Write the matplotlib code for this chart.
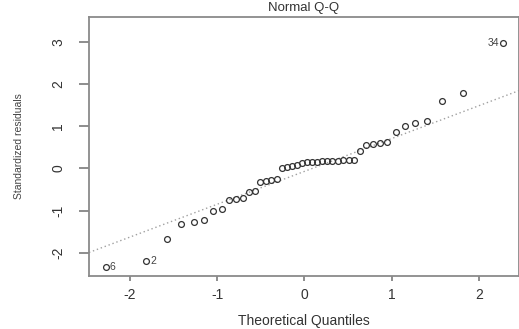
from statistics import NormalDist

import numpy as np
import matplotlib
matplotlib.use("Agg")
import matplotlib.pyplot as plt

plt.rcParams["font.family"] = ["Liberation Sans", "DejaVu Sans"]
plt.rcParams["axes.unicode_minus"] = False

# theoretical normal quantiles of the 44 observations (sorted)
theoretical = [
    -2.28, -1.82, -1.58, -1.41, -1.27, -1.15, -1.05, -0.95, -0.87, -0.79, -0.71,
    -0.64, -0.57, -0.51, -0.44, -0.38, -0.32, -0.26, -0.20, -0.14, -0.09, -0.03,
    0.03, 0.09, 0.14, 0.20, 0.26, 0.32, 0.38, 0.44, 0.51, 0.57, 0.64,
    0.71, 0.79, 0.87, 0.95, 1.05, 1.15, 1.27, 1.41, 1.58, 1.82, 2.28,
]
# sorted standardized residuals
std_resid = [
    -2.33, -2.19, -1.68, -1.32, -1.26, -1.22, -1.01, -0.96, -0.76, -0.73, -0.70,
    -0.56, -0.53, -0.31, -0.29, -0.27, -0.26, 0.00, 0.04, 0.06, 0.08, 0.12,
    0.15, 0.16, 0.16, 0.17, 0.17, 0.18, 0.18, 0.19, 0.19, 0.20, 0.42,
    0.56, 0.57, 0.60, 0.62, 0.87, 1.01, 1.07, 1.13, 1.61, 1.80, 2.97,
]
# observation ids of the flagged points, by sorted position
flagged = {0: "6", 1: "2", 43: "34"}

x = np.array(theoretical)
y = np.array(std_resid)

# reference line through the first and third quartiles (as qqline does)
yq = np.quantile(y, [0.25, 0.75])
nd = NormalDist()
xq = np.array([nd.inv_cdf(0.25), nd.inv_cdf(0.75)])
slope = (yq[1] - yq[0]) / (xq[1] - xq[0])
intercept = yq[0] - slope * xq[0]

fig = plt.figure(figsize=(5.19, 3.29), dpi=100)
ax = fig.add_axes([89 / 519, 53 / 329, 430 / 519, 259 / 329])

ax.axline((0, intercept), slope=slope, color="#a0a0a0", lw=1.0,
          linestyle=(0, (1, 2)), zorder=1)
ax.plot(x, y, linestyle="none", marker="o", ms=4.2, mfc="none",
        mec="#333333", mew=0.9, zorder=2)

for idx, lab in flagged.items():
    if x[idx] < x.mean():
        ax.text(x[idx] + 0.05, y[idx], lab, ha="left", va="center",
                fontsize=7.5, color="#444444")
    else:
        ax.text(x[idx] - 0.05, y[idx], lab, ha="right", va="center",
                fontsize=7.5, color="#444444")

ax.set_xlim(-2.47, 2.46)
ax.set_ylim(-2.55, 3.59)
ax.set_xticks([-2, -1, 0, 1, 2])
ax.set_yticks([-2, -1, 0, 1, 2, 3])

for s in ax.spines.values():
    s.set_color("#8a8a8a")
    s.set_linewidth(1.3)

ax.tick_params(axis="x", direction="out", length=3.5, width=1.2,
               color="#7a7a7a", labelsize=10, labelcolor="#333333", pad=5)
ax.tick_params(axis="y", direction="out", length=7, width=1.2,
               color="#7a7a7a", labelsize=10, labelcolor="#333333", pad=10)
for t in ax.get_yticklabels():
    t.set_rotation(90)
    t.set_va("center")

ax.set_xlabel("Theoretical Quantiles", fontsize=10, color="#333333", labelpad=9)
ax.set_ylabel("Standardized residuals", fontsize=7.5, color="#444444", labelpad=20)
ax.set_title("Normal Q-Q", fontsize=9.5, color="#333333", pad=4)

fig.savefig("out.png", dpi=100)
